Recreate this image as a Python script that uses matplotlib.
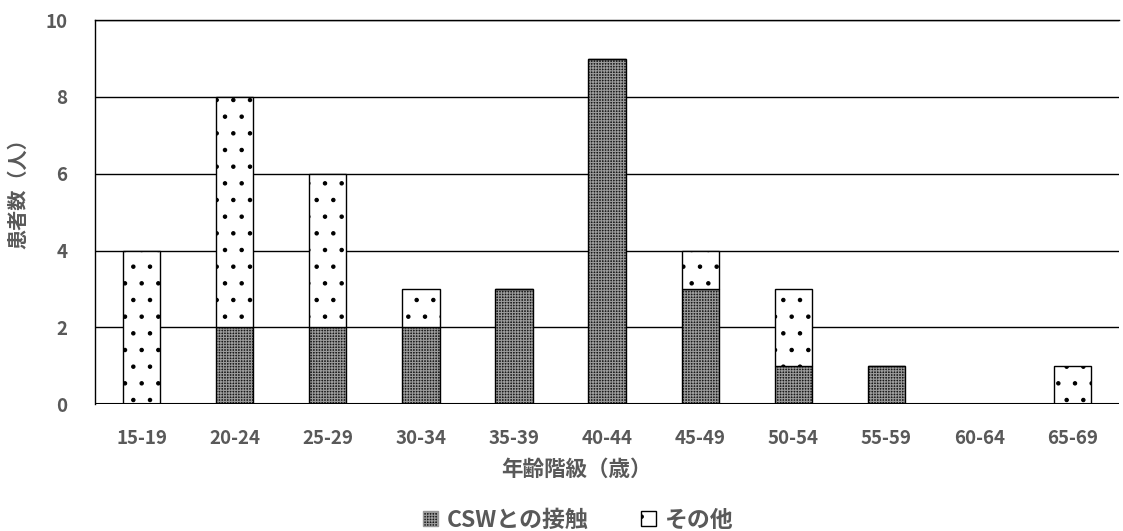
import numpy as np
import matplotlib
matplotlib.use("Agg")
from matplotlib import pyplot as plt
from matplotlib.patches import Patch

plt.rcParams['font.family'] = ['Noto Sans CJK JP', 'DejaVu Sans']
plt.rcParams['hatch.linewidth'] = 0.8

# data
age_groups = ['15-19', '20-24', '25-29', '30-34', '35-39', '40-44',
              '45-49', '50-54', '55-59', '60-64', '65-69']
csw = [0, 2, 2, 2, 3, 9, 3, 1, 1, 0, 0]
other = [4, 6, 4, 1, 0, 0, 1, 2, 0, 0, 1]

txt = '#595959'
dark = '#1a1a1a'
dots = '#9a9a9a'
x = np.arange(len(age_groups))
w = 0.4

fig = plt.figure(figsize=(11.23, 5.31), dpi=100)
ax = fig.add_axes([0.0846, 0.239, 0.912, 0.723])

ax.set_axisbelow(True)
ax.yaxis.grid(True, color='black', linewidth=1.0)

# CSW bars: dark fill with light texture, then outline
ax.bar(x, csw, w, color=dark, edgecolor=dots, hatch='++++++', linewidth=0)
ax.bar(x, csw, w, fill=False, edgecolor='black', linewidth=1.0)
# other bars on top
ax.bar(x, other, w, bottom=csw, color='white', edgecolor='black', hatch='.', linewidth=1.0)

ax.set_xlim(-0.5, len(age_groups) - 0.5)
ax.set_ylim(0, 10)
ax.set_yticks([0, 2, 4, 6, 8, 10])
ax.set_xticks(x)
ax.set_xticklabels(age_groups)
ax.tick_params(length=0, labelsize=13.5, colors=txt)
ax.tick_params(axis='x', pad=18)
ax.tick_params(axis='y', pad=20)
for lab in ax.get_xticklabels() + ax.get_yticklabels():
    lab.set_fontweight('bold')

for s in ['right', 'bottom']:
    ax.spines[s].set_visible(False)
ax.spines['left'].set_linewidth(1.0)
ax.spines['top'].set_linewidth(1.0)
ax.axhline(0, color='black', linewidth=1.5)

ax.set_xlabel('年齢階級（歳）', fontsize=15.5, fontweight='bold', color=txt)
ax.xaxis.set_label_coords(0.47, -0.143)
ax.set_ylabel('患者数（人）', fontsize=14.5, fontweight='bold', color=txt)
ax.yaxis.set_label_coords(-0.065, 0.56)

handles = [Patch(facecolor=dark, edgecolor=dots, hatch='++++++', label='CSWとの接触'),
           Patch(facecolor='white', edgecolor='black', hatch='.', label='その他')]
leg = fig.legend(handles=handles, loc='lower center', bbox_to_anchor=(0.515, -0.04), ncol=2,
                 frameon=False, handlelength=0.65, handleheight=0.65, handletextpad=0.4,
                 columnspacing=2.3, prop={'size': 16.5, 'weight': 'bold'})
for t in leg.get_texts():
    t.set_color(txt)

fig.savefig('out.png', dpi=100)
